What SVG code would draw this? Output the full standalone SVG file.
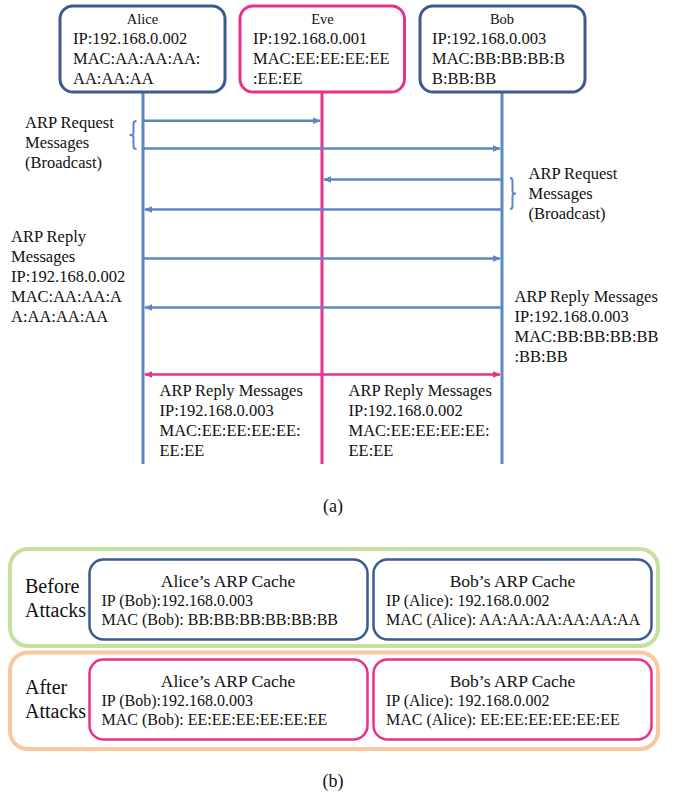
<svg xmlns="http://www.w3.org/2000/svg" width="674" height="795" viewBox="0 0 674 795" font-family="'Liberation Serif', Tinos, 'Times New Roman', 'DejaVu Serif', serif">
<defs>
<marker id="ah" markerWidth="8" markerHeight="8" viewBox="0 0 8 8" refX="7" refY="4" orient="auto" markerUnits="userSpaceOnUse">
<path d="M0,0.8 L8,4 L0,7.2 Z" fill="#5b87c5"/>
</marker>
<marker id="ahp" markerWidth="8" markerHeight="8" viewBox="0 0 8 8" refX="7" refY="4" orient="auto-start-reverse" markerUnits="userSpaceOnUse">
<path d="M0,0.8 L8,4 L0,7.2 Z" fill="#e8308c"/>
</marker>
</defs>
<style>
text{font-family:'Liberation Serif', Tinos, 'Times New Roman', 'DejaVu Serif', serif;fill:#111}
.hd{font-size:14.5px;text-anchor:middle}
.t{font-size:16.5px}
.c{font-size:16px}
.ct{font-size:17.5px;text-anchor:middle}
.ba{font-size:20px}
.cap{font-size:18px;text-anchor:middle}
.nb{fill:#fff;stroke:#3c5a8e;stroke-width:3}
.np{fill:#fff;stroke:#e8308c;stroke-width:3}
.life{stroke:#5b87c5;stroke-width:3;fill:none}
.lifep{stroke:#e8308c;stroke-width:3;fill:none}
.ar{stroke:#5b87c5;stroke-width:2.5;fill:none;marker-end:url(#ah)}
.arp{stroke:#e8308c;stroke-width:2.5;fill:none}
.br{stroke:#5b87c5;stroke-width:2;fill:none}
.cb{fill:#fff;stroke-width:2.5}
</style>
<g id="lifelines">
<line class="life" x1="143" y1="92" x2="143" y2="464"/>
<line class="lifep" x1="322" y1="92" x2="322" y2="464"/>
<line class="life" x1="502" y1="92" x2="502" y2="464"/>
</g>
<g id="alice">
<rect class="nb" x="60" y="6" width="165" height="86" rx="13"/>
<text class="hd" x="142.5" y="24">Alice</text>
<text class="t" x="73" y="44">IP:192.168.0.002</text>
<text class="t" x="73" y="64">MAC:AA:AA:AA:</text>
<text class="t" x="73" y="84">AA:AA:AA</text>
</g>
<g id="eve">
<rect class="np" x="240" y="6" width="164.5" height="86" rx="13"/>
<text class="hd" x="322.5" y="24">Eve</text>
<text class="t" x="253" y="44">IP:192.168.0.001</text>
<text class="t" x="253" y="64">MAC:EE:EE:EE:EE</text>
<text class="t" x="253" y="84">:EE:EE</text>
</g>
<g id="bob">
<rect class="nb" x="420" y="6" width="165" height="86" rx="13"/>
<text class="hd" x="502" y="24">Bob</text>
<text class="t" x="432" y="44">IP:192.168.0.003</text>
<text class="t" x="432" y="64">MAC:BB:BB:BB:B</text>
<text class="t" x="432" y="84">B:BB:BB</text>
</g>
<g id="connectors">
<line class="ar" x1="144" y1="120.7" x2="320" y2="120.7"/>
<line class="ar" x1="144" y1="148.5" x2="500" y2="148.5"/>
<line class="ar" x1="501" y1="179.5" x2="324" y2="179.5"/>
<line class="ar" x1="501" y1="209.5" x2="145" y2="209.5"/>
<line class="ar" x1="144" y1="258.5" x2="500" y2="258.5"/>
<line class="ar" x1="501" y1="307.5" x2="145" y2="307.5"/>
<line class="arp" x1="145" y1="374.5" x2="500" y2="374.5" marker-start="url(#ahp)" marker-end="url(#ahp)"/>
<path class="br" d="M136.5,121 Q133.5,121 133.5,124 L133.5,132.5 Q133.5,135 131,135 L129.5,135 M131,135 Q133.5,135 133.5,137.5 L133.5,146 Q133.5,149 136.5,149"/>
<path class="br" d="M510,178 Q512.5,178 512.5,181 L512.5,191 Q512.5,193.5 515,193.5 L516,193.5 M515,193.5 Q512.5,193.5 512.5,196 L512.5,206 Q512.5,209 510,209"/>
</g>
<g id="labels">
<text class="t" x="25" y="128">ARP Request</text>
<text class="t" x="25" y="148">Messages</text>
<text class="t" x="25" y="168">(Broadcast)</text>
<text class="t" x="528.5" y="179">ARP Request</text>
<text class="t" x="528.5" y="199">Messages</text>
<text class="t" x="528.5" y="219">(Broadcast)</text>
<text class="t" x="11" y="241.5">ARP Reply</text>
<text class="t" x="11" y="261.5">Messages</text>
<text class="t" x="11" y="281.5">IP:192.168.0.002</text>
<text class="t" x="11" y="301.5">MAC:AA:AA:A</text>
<text class="t" x="11" y="321.5">A:AA:AA:AA</text>
<text class="t" x="514.5" y="301.5">ARP Reply Messages</text>
<text class="t" x="514.5" y="321.5">IP:192.168.0.003</text>
<text class="t" x="514.5" y="341.5">MAC:BB:BB:BB:BB</text>
<text class="t" x="514.5" y="361.5">:BB:BB</text>
<text class="t" x="159.5" y="395.5">ARP Reply Messages</text>
<text class="t" x="159.5" y="415.5">IP:192.168.0.003</text>
<text class="t" x="159.5" y="435.5">MAC:EE:EE:EE:EE:</text>
<text class="t" x="159.5" y="455.5">EE:EE</text>
<text class="t" x="348.5" y="395.5">ARP Reply Messages</text>
<text class="t" x="348.5" y="415.5">IP:192.168.0.002</text>
<text class="t" x="348.5" y="435.5">MAC:EE:EE:EE:EE:</text>
<text class="t" x="348.5" y="455.5">EE:EE</text>
<text class="cap" x="333" y="511.5">(a)</text>
</g>
<g id="before">
<rect x="10" y="549" width="648" height="97" rx="18" fill="none" stroke="#c6e0a0" stroke-width="4"/>
<text class="ba" x="25" y="592.5">Before</text>
<text class="ba" x="25" y="616.5">Attacks</text>
</g>
<g id="after">
<rect x="10" y="652.5" width="648" height="96.5" rx="18" fill="none" stroke="#f9c8a0" stroke-width="4"/>
<text class="ba" x="25" y="694">After</text>
<text class="ba" x="25" y="718">Attacks</text>
</g>
<g id="alice-cache-before">
<rect class="cb" x="89.5" y="559.5" width="278" height="80" rx="14" stroke="#3c5a8e"/>
<text class="ct" x="228" y="586.5">Alice’s ARP Cache</text>
<text class="c" x="101.5" y="605.5">IP (Bob):192.168.0.003</text>
<text class="c" x="101.5" y="624.5">MAC (Bob): BB:BB:BB:BB:BB:BB</text>
</g>
<g id="bob-cache-before">
<rect class="cb" x="373.5" y="559.5" width="278" height="80" rx="14" stroke="#3c5a8e"/>
<text class="ct" x="512.5" y="586.5">Bob’s ARP Cache</text>
<text class="c" x="386" y="605.5">IP (Alice): 192.168.0.002</text>
<text class="c" x="386" y="624.5">MAC (Alice): AA:AA:AA:AA:AA:AA</text>
</g>
<g id="alice-cache-after">
<rect class="cb" x="89.5" y="659.5" width="278" height="80" rx="14" stroke="#e8308c"/>
<text class="ct" x="228" y="686.5">Alice’s ARP Cache</text>
<text class="c" x="101.5" y="706">IP (Bob):192.168.0.003</text>
<text class="c" x="101.5" y="725">MAC (Bob): EE:EE:EE:EE:EE:EE</text>
</g>
<g id="bob-cache-after">
<rect class="cb" x="373.5" y="659.5" width="278" height="80" rx="14" stroke="#e8308c"/>
<text class="ct" x="512.5" y="686.5">Bob’s ARP Cache</text>
<text class="c" x="386" y="706">IP (Alice): 192.168.0.002</text>
<text class="c" x="386" y="725">MAC (Alice): EE:EE:EE:EE:EE:EE</text>
</g>
<text class="cap" x="333" y="786.5">(b)</text>
</svg>
